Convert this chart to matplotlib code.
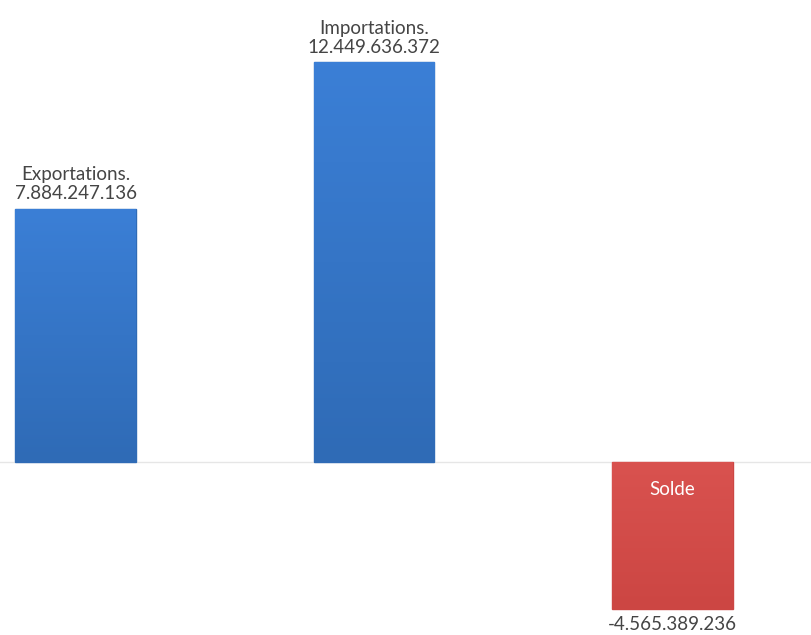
import numpy as np
import matplotlib.pyplot as plt
from matplotlib.colors import LinearSegmentedColormap

categories = ['Exportations.', 'Importations.', 'Solde']
values = [7884247136, 12449636372, -4565389236]

plt.rcParams['font.family'] = ['Lato', 'DejaVu Sans']

def fmt(v):
    return f"{v:,}".replace(',', '.')

fig = plt.figure(figsize=(8.11, 6.35), dpi=100)
ax = fig.add_axes([0, 0, 1, 1])
ax.set_xlim(-0.253, 2.464)
ax.set_ylim(-5.39e9, 14.39e9)
ax.axis('off')

ax.axhline(0, color='#e6e6e6', lw=1, zorder=1)

x = np.arange(len(categories))
width = 0.405
bars = ax.bar(x, values, width=width, color=['#3373c4', '#3373c4', '#d44c4a'], zorder=2)

grads = [('#3b7fd6', '#2f6bb6'), ('#3b7fd6', '#2f6bb6'), ('#d9524f', '#cc4643')]
for b, (c1, c2) in zip(bars, grads):
    cmap = LinearSegmentedColormap.from_list('g', [c2, c1])
    x0, y0 = b.get_x(), b.get_y()
    w, h = b.get_width(), b.get_height()
    ylo, yhi = min(y0, y0 + h), max(y0, y0 + h)
    grad = np.linspace(0, 1, 100).reshape(-1, 1)
    im = ax.imshow(grad, extent=[x0, x0 + w, ylo, yhi], origin='lower',
                   cmap=cmap, aspect='auto', zorder=3)
    im.set_clip_path(b)
    b.set_edgecolor(c2)
    b.set_linewidth(1)

pad = 0.2e9
for i, (cat, v) in enumerate(zip(categories, values)):
    if v >= 0:
        ax.text(x[i], v + pad, cat + '\n' + fmt(v), ha='center', va='bottom',
                fontsize=13.5, color='#454545', linespacing=1.15, zorder=5)
    else:
        ax.text(x[i], -0.85e9, cat, ha='center', va='center',
                fontsize=13.5, color='white', zorder=5)
        ax.text(x[i], v - 0.5e9, fmt(v), ha='center', va='center',
                fontsize=13.5, color='#454545', zorder=5)

fig.savefig('out.png', dpi=100)
